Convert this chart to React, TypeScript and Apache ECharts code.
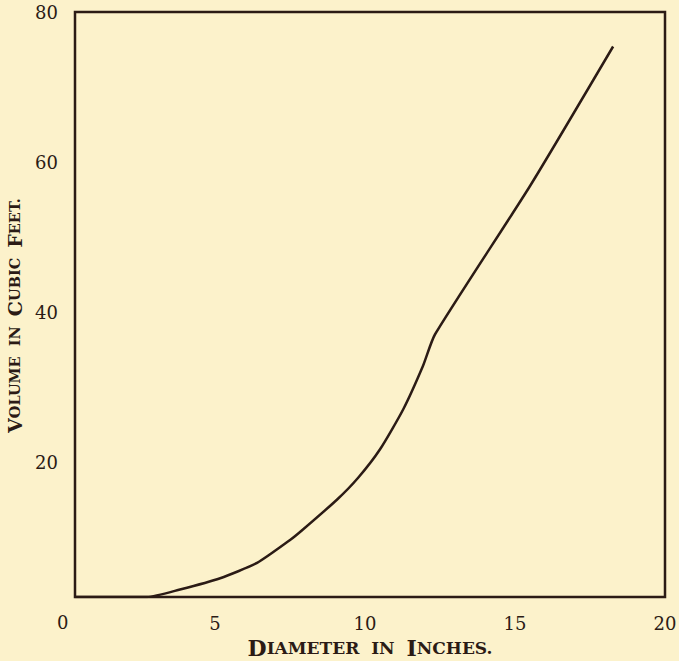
import React, { useEffect, useRef } from "react";
import * as echarts from "echarts";

const diameters = [0.33, 2.73, 3.83, 5.17, 6.4, 7.5, 7.93, 9.07, 9.77, 10.5, 11.27, 11.93, 12.33, 15.5, 18.27];
const volumes = [2.0, 2.0, 3.0, 4.5, 6.55, 9.6, 11.0, 15.0, 17.9, 21.7, 27.0, 32.8, 37.0, 56.8, 75.4];
const xTicks = [5, 10, 15, 20];
const xOriginLabel = "0";
const yTicks = [20, 40, 60, 80];

const INK = "#2b1b15";
const BG = "#fcf2cb";
const FONT = "DejaVu Serif";

export default function App() {
  const ref = useRef<HTMLDivElement>(null);
  useEffect(() => {
    if (!ref.current) return;
    const chart = echarts.init(ref.current, undefined, { renderer: "svg" });
    const xRich = {
      b: { fontFamily: FONT, fontSize: 22, color: INK, fontWeight: "bold" },
      s: { fontFamily: FONT, fontSize: 17, color: INK, fontWeight: "bold" },
    };
    const yRich = {
      b: { fontFamily: FONT, fontSize: 19, color: INK, fontWeight: "bold", lineHeight: 17 },
      s: { fontFamily: FONT, fontSize: 14.5, color: INK, fontWeight: "bold", lineHeight: 17 },
    };
    chart.setOption({
      animation: false,
      backgroundColor: BG,
      grid: {
        left: 75,
        top: 12,
        right: 14,
        bottom: 64,
        outerBoundsMode: "none",
        containLabel: false,
        show: true,
        borderColor: INK,
        borderWidth: 2.5,
        backgroundColor: "transparent",
      },
      graphic: [
        {
          type: "text",
          left: 57,
          top: 613,
          style: { text: xOriginLabel, fontFamily: FONT, fontSize: 18, fill: INK },
        },
      ],
      xAxis: {
        type: "value",
        min: 0.33,
        max: 20,
        axisLine: { show: false },
        axisTick: { show: false },
        splitLine: { show: false },
        axisLabel: {
          customValues: xTicks,
          margin: 17,
          fontFamily: FONT,
          fontSize: 18,
          color: INK,
        },
        name: "{b|D}{s|IAMETER  IN  }{b|I}{s|NCHES.}",
        nameLocation: "middle",
        nameGap: 40,
        nameTextStyle: { rich: xRich },
      },
      yAxis: {
        type: "value",
        min: 2,
        max: 80,
        axisLine: { show: false },
        axisTick: { show: false },
        splitLine: { show: false },
        axisLabel: {
          customValues: yTicks,
          margin: 17,
          fontFamily: FONT,
          fontSize: 18,
          color: INK,
        },
        name: "{b|V}{s|OLUME  IN  }{b|C}{s|UBIC  }{b|F}{s|EET.}",
        nameLocation: "middle",
        nameGap: 52,
        nameTextStyle: { rich: yRich, padding: [0, 22, 0, 0] },
      },
      series: [
        {
          type: "line",
          data: diameters.map((d, i) => [d, volumes[i]]),
          smooth: 0.2,
          showSymbol: false,
          lineStyle: { color: INK, width: 2.5 },
        },
      ],
    });
    return () => chart.dispose();
  }, []);
  return <div ref={ref} style={{ width: 679, height: 661, position: "absolute", left: 0, top: 0 }} />;
}
